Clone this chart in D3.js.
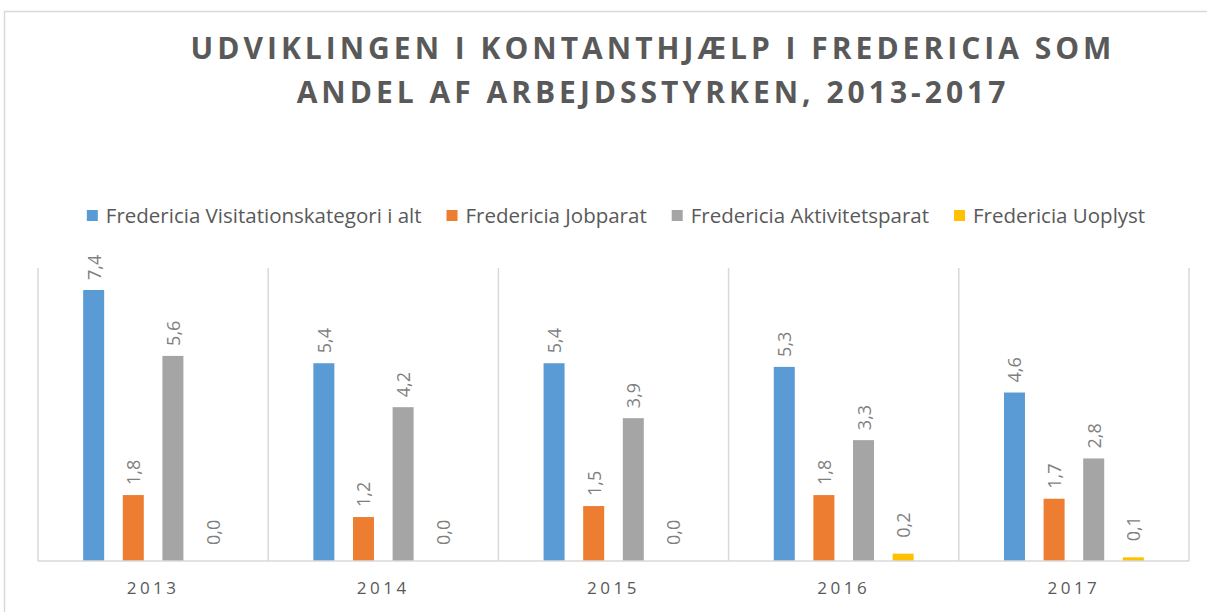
<!DOCTYPE html>
<html>
<head>
<meta charset="utf-8">
<script src="https://cdn.jsdelivr.net/npm/d3@7"></script>
<style>
  body { margin: 0; background: #fff; }
  text { font-family: "Open Sans", "Noto Sans", sans-serif; fill: #595959; }
</style>
</head>
<body>
<svg id="chart"></svg>
<script>
const years = ["2013", "2014", "2015", "2016", "2017"];
const seriesNames = ["Fredericia Visitationskategori i alt", "Fredericia Jobparat", "Fredericia Aktivitetsparat", "Fredericia Uoplyst"];
const seriesColors = ["#5b9bd5", "#ed7d31", "#a5a5a5", "#ffc000"];
const visitation = [7.4, 5.4, 5.4, 5.3, 4.6];
const jobparat = [1.8, 1.2, 1.5, 1.8, 1.7];
const aktivitetsparat = [5.6, 4.2, 3.9, 3.3, 2.8];
const uoplyst = [0.0, 0.0, 0.0, 0.2, 0.1];
const titleLines = ["UDVIKLINGEN I KONTANTHJÆLP I FREDERICIA SOM", "ANDEL AF ARBEJDSSTYRKEN, 2013-2017"];

const width = 1207;
const height = 612;

const svg = d3.select("#chart")
              .attr("width", width)
              .attr("height", height);

// outer frame
svg.append("rect")
   .attr("x", 4.5).attr("y", 11.5)
   .attr("width", width).attr("height", height)
   .attr("fill", "none")
   .attr("stroke", "#d9d9d9")
   .attr("stroke-width", 1.5);

const margin = {top: 268, right: 18, bottom: 51, left: 38};
const viewWidth = width - margin.left - margin.right;
const viewHeight = height - margin.top - margin.bottom;

const g = svg.append("g")
             .attr("transform", "translate(" + margin.left + "," + margin.top + ")");

const x0 = d3.scaleBand()
             .domain(years)
             .range([0, viewWidth]);

const x1 = d3.scaleBand()
             .domain(seriesNames)
             .range([0, x0.bandwidth()])
             .paddingInner(0.47)
             .paddingOuter(1.14);

const y = d3.scaleLinear()
            .domain([0, 8])
            .range([viewHeight, 0]);

// vertical gridlines at category boundaries
g.append("g")
 .selectAll("line")
 .data(years.concat(["end"]))
 .enter()
 .append("line")
 .attr("x1", (d, i) => i * x0.step())
 .attr("x2", (d, i) => i * x0.step())
 .attr("y1", 0)
 .attr("y2", viewHeight)
 .attr("stroke", "#d9d9d9")
 .attr("stroke-width", 1.5);

const table = years.map((yr, i) => ({
  year: yr,
  values: [visitation[i], jobparat[i], aktivitetsparat[i], uoplyst[i]].map((v, j) => ({name: seriesNames[j], color: seriesColors[j], value: v}))
}));

const groups = g.selectAll(".grp")
                .data(table)
                .enter()
                .append("g")
                .attr("class", "grp")
                .attr("transform", d => "translate(" + x0(d.year) + ",0)");

groups.selectAll("rect")
      .data(d => d.values)
      .enter()
      .append("rect")
      .attr("x", d => x1(d.name))
      .attr("y", d => y(d.value))
      .attr("width", x1.bandwidth())
      .attr("height", d => viewHeight - y(d.value))
      .attr("fill", d => d.color);

// value labels, small bars get a bit more room like in the original
groups.selectAll(".lbl")
      .data(d => d.values)
      .enter()
      .append("text")
      .attr("class", "lbl")
      .attr("transform", d => "translate(" + (x1(d.name) + x1.bandwidth() / 2 + 7) + "," + (y(d.value) - (d.value < 1 ? 16 : 10)) + ") rotate(-90)")
      .attr("text-anchor", "start")
      .style("font-size", "18px")
      .style("fill", "#7f7f7f")
      .text(d => d.value.toFixed(1).replace(".", ","));

// baseline
g.append("line")
 .attr("x1", 0).attr("x2", viewWidth)
 .attr("y1", viewHeight).attr("y2", viewHeight)
 .attr("stroke", "#d9d9d9")
 .attr("stroke-width", 1.5);

const xAxis = g.append("g")
               .attr("transform", "translate(0," + viewHeight + ")")
               .call(d3.axisBottom(x0).tickSize(0).tickPadding(21));
xAxis.select(".domain").remove();
xAxis.selectAll("text")
     .style("font-family", "\"Open Sans\", sans-serif")
     .style("font-size", "17px")
     .style("letter-spacing", "3.5px")
     .style("fill", "#595959");

// title
svg.append("g")
   .selectAll("text")
   .data(titleLines)
   .enter()
   .append("text")
   .attr("x", 653)
   .attr("y", (d, i) => 59 + i * 44)
   .attr("text-anchor", "middle")
   .style("font-size", "30px")
   .style("font-weight", "bold")
   .style("letter-spacing", "4px")
   .text(d => d);

// legend
const legend = svg.append("g").attr("transform", "translate(0,216)");
const items = legend.selectAll("g")
                    .data(seriesNames)
                    .enter()
                    .append("g");
items.append("rect")
     .attr("width", 11).attr("height", 11)
     .attr("y", -6)
     .attr("fill", (d, i) => seriesColors[i]);
items.append("text")
     .attr("x", 19)
     .attr("dy", "0.35em")
     .style("font-size", "20.5px")
     .text(d => d);

let cursor = 0;
const offsets = [];
items.each(function(d, i) {
  offsets.push(cursor);
  const w = this.querySelector("text").getComputedTextLength();
  cursor += 19 + w + 25;
});
const total = cursor - 25;
const start = 616 - total / 2;
items.attr("transform", (d, i) => "translate(" + (start + offsets[i]) + ",0)");
</script>
</body>
</html>
